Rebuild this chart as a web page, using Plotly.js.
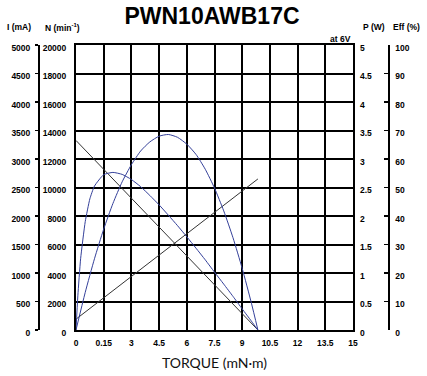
<!DOCTYPE html>
<html>
<head>
<meta charset="utf-8">
<script src="https://cdn.plot.ly/plotly-3.0.1.min.js"></script>
<style>html,body{margin:0;padding:0;background:#fff;}#chart{width:427px;height:376px;}</style>
</head>
<body>
<div id="chart"></div>
<script>
// ---- data ----
const torqueTicks = [0, 1.5, 3, 4.5, 6, 7.5, 9, 10.5, 12, 13.5, 15];
const torqueTickText = ['0', '0.15', '3', '4.5', '6', '7.5', '9', '10.5', '12', '13.5', '15'];
const speedTicks = [0, 2000, 4000, 6000, 8000, 10000, 12000, 14000, 16000, 18000, 20000];
const currentTicks = [0, 500, 1000, 1500, 2000, 2500, 3000, 3500, 4000, 4500, 5000];
const powerTicks = [0, 0.5, 1, 1.5, 2, 2.5, 3, 3.5, 4, 4.5, 5];
const effTicks = [0, 10, 20, 30, 40, 50, 60, 70, 80, 90, 100];

const lineTorque = [0, 9.85];
const speedRpm = [13300, 0];
const currentMa = [190, 2650];

const powerTorque = [0, 0.5, 1, 1.5, 2, 2.5, 3, 3.5, 4, 4.5, 5, 5.5, 6, 6.5, 7, 7.5, 8, 8.5, 9, 9.5, 9.85];
const powerW = [0, 0.66, 1.25, 1.77, 2.22, 2.6, 2.9, 3.14, 3.3, 3.4, 3.43, 3.38, 3.26, 3.08, 2.82, 2.49, 2.09, 1.62, 1.08, 0.47, 0];

const effTorque = [0, 0.1, 0.25, 0.5, 0.75, 1, 1.5, 2, 2.5, 3, 3.5, 4, 4.5, 5, 5.5, 6, 6.5, 7, 7.5, 8, 8.5, 9, 9.5, 9.85];
const effPct = [0, 12, 25, 38, 46, 50.5, 54.5, 55.3, 54.6, 52.8, 50.3, 47.2, 43.9, 40.3, 36.6, 32.7, 28.7, 24.6, 20.3, 16.1, 11.8, 7.4, 3.1, 0];

// ---- styling ----
const W = 427, H = 376;
const mL = 30, mR = 30, mT = 45, mB = 46;
const pw = W - mL - mR;
const plotLeft = 76, plotRight = 353;
const px = v => (v - mL) / pw;
const py = v => (H - mB - v) / (H - mT - mB);
const tickFont = {family: 'Liberation Sans, Arial, sans-serif', size: 8.5, color: '#000', weight: 'bold'};
const blue = '#34409a';
const dark = '#333';

const traces = [
  {x: lineTorque, y: speedRpm, type: 'scatter', mode: 'lines', line: {color: dark, width: 1}, yaxis: 'y', hoverinfo: 'skip'},
  {x: lineTorque, y: currentMa, type: 'scatter', mode: 'lines', line: {color: dark, width: 1}, yaxis: 'y2', hoverinfo: 'skip'},
  {x: powerTorque, y: powerW, type: 'scatter', mode: 'lines', line: {color: blue, width: 1, shape: 'spline', smoothing: 0.6}, yaxis: 'y3', hoverinfo: 'skip'},
  {x: effTorque, y: effPct, type: 'scatter', mode: 'lines', line: {color: blue, width: 1, shape: 'spline', smoothing: 0.5}, yaxis: 'y4', hoverinfo: 'skip'}
];

const layout = {
  width: W, height: H,
  margin: {l: mL, r: mR, t: mT, b: mB, pad: 0},
  paper_bgcolor: '#fff', plot_bgcolor: '#fff',
  showlegend: false,
  title: {text: 'PWN10AWB17C', font: {family: 'Liberation Sans, Arial, sans-serif', size: 23, color: '#000', weight: 'bold'},
          xref: 'container', yref: 'container', x: 212 / W, xanchor: 'center', y: 1 - 16 / H, yanchor: 'middle'},
  xaxis: {
    domain: [px(plotLeft), px(plotRight)], range: [0, 15],
    tickvals: torqueTicks, ticktext: torqueTickText, tickfont: tickFont,
    showgrid: true, gridcolor: '#000', gridwidth: 2, zeroline: false,
    showline: true, linecolor: '#000', linewidth: 2, mirror: true, ticks: '', ticklabelstandoff: 4,
    title: {text: 'TORQUE (mN·m)', font: {family: 'Lato, sans-serif', size: 14, color: '#111'}, standoff: 11}
  },
  yaxis: {
    range: [0, 20000], tickvals: speedTicks, tickformat: 'd', tickfont: tickFont,
    showgrid: true, gridcolor: '#000', gridwidth: 2, zeroline: false,
    showline: true, linecolor: '#000', linewidth: 2, mirror: true, ticks: '',
    ticklabelstandoff: 6, ticklabelshift: 3
  },
  yaxis2: {
    range: [0, 5000], tickvals: currentTicks, tickformat: 'd', tickfont: tickFont,
    overlaying: 'y', anchor: 'free', position: px(38), side: 'left',
    showgrid: false, zeroline: false, showline: true, linecolor: '#000', linewidth: 1.5,
    ticks: 'outside', ticklen: 3, tickwidth: 1.5, tickcolor: '#000',
    ticklabelstandoff: 3, ticklabelshift: 3
  },
  yaxis3: {
    range: [0, 5], tickvals: powerTicks, tickfont: tickFont,
    overlaying: 'y', anchor: 'x', side: 'right',
    showgrid: false, zeroline: false, showline: false, ticks: '',
    ticklabelstandoff: 6, ticklabelshift: 3
  },
  yaxis4: {
    range: [0, 100], tickvals: effTicks, tickfont: tickFont,
    overlaying: 'y', anchor: 'free', position: px(388), side: 'right',
    showgrid: false, zeroline: false, showline: true, linecolor: '#000', linewidth: 1.5,
    ticks: 'inside', ticklen: 4, tickwidth: 1.5, tickcolor: '#000',
    ticklabelstandoff: 4, ticklabelshift: 3
  },
  annotations: [
    {text: 'I (mA)', xref: 'paper', yref: 'paper', x: px(33), y: py(27), xanchor: 'right', yanchor: 'middle', showarrow: false, font: tickFont},
    {text: 'N (min<sup>-1</sup>)', xref: 'paper', yref: 'paper', x: px(43), y: py(27), xanchor: 'left', yanchor: 'middle', showarrow: false, font: tickFont},
    {text: 'at 6V', xref: 'paper', yref: 'paper', x: px(353), y: py(39), xanchor: 'right', yanchor: 'middle', showarrow: false, font: tickFont},
    {text: 'P (W)', xref: 'paper', yref: 'paper', x: px(361), y: py(27), xanchor: 'left', yanchor: 'middle', showarrow: false, font: tickFont},
    {text: 'Eff (%)', xref: 'paper', yref: 'paper', x: px(391), y: py(27), xanchor: 'left', yanchor: 'middle', showarrow: false, font: tickFont}
  ]
};

Plotly.newPlot('chart', traces, layout, {displayModeBar: false, staticPlot: true});
</script>
</body>
</html>
